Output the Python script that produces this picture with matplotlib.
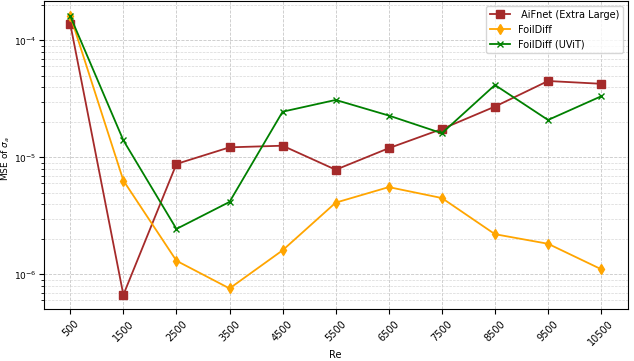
import matplotlib.pyplot as plt
import numpy as np

re_vals = [500, 1500, 2500, 3500, 4500, 5500, 6500, 7500, 8500, 9500, 10500]

aifnet = [1.38e-4, 6.7e-7, 8.8e-6, 1.22e-5, 1.26e-5, 7.85e-6, 1.2e-5, 1.75e-5, 2.72e-5, 4.5e-5, 4.26e-5]
foildiff = [1.63e-4, 6.35e-6, 1.31e-6, 7.6e-7, 1.61e-6, 4.11e-6, 5.58e-6, 4.5e-6, 2.21e-6, 1.83e-6, 1.11e-6]
foildiff_uvit = [1.61e-4, 1.40e-5, 2.45e-6, 4.17e-6, 2.46e-5, 3.1e-5, 2.28e-5, 1.61e-5, 4.16e-5, 2.09e-5, 3.33e-5]

fig = plt.figure(figsize=(6.34, 3.61), dpi=100)
ax = fig.add_axes([0.069, 0.144, 0.921, 0.853])

ax.plot(re_vals, aifnet, marker='s', color='brown', markersize=5.5, linewidth=1.3, label=' AiFnet (Extra Large)')
ax.plot(re_vals, foildiff, marker='d', color='orange', markersize=5.5, linewidth=1.3, label='FoilDiff')
ax.plot(re_vals, foildiff_uvit, marker='x', color='green', markersize=4.5, linewidth=1.3, label='FoilDiff (UViT)')

ax.set_yscale('log')
ax.set_ylim(10**-6.295, 10**-3.664)
ax.set_xticks(re_vals)
ax.set_xticklabels([str(v) for v in re_vals], rotation=45, fontsize=7)
ax.tick_params(axis='y', labelsize=6.5, pad=2)
ax.set_xlabel('Re', fontsize=7, labelpad=2)
ax.set_ylabel(r'MSE of $\sigma_a$', fontsize=6.5)
ax.yaxis.set_label_coords(-0.054, 0.49)
ax.grid(True, which='major', linestyle='--', linewidth=0.6, color='#c8c8c8')
ax.grid(True, which='minor', linestyle='--', linewidth=0.5, color='#d8d8d8')
ax.legend(loc='upper right', fontsize=7)

fig.savefig('out.png', dpi=100)
